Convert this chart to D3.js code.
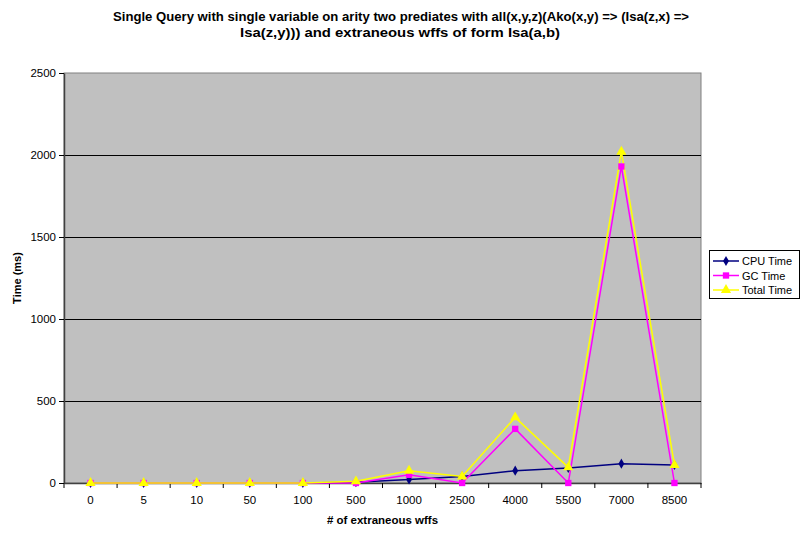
<!DOCTYPE html>
<html>
<head>
<meta charset="utf-8">
<script src="https://cdn.jsdelivr.net/npm/d3@7"></script>
<style>
  body { margin: 0; background: #fff; }
  svg { font-family: "Liberation Sans", Arial, sans-serif; }
</style>
</head>
<body>
<svg id="chart" width="801" height="533"></svg>
<script>
// categories on the x axis (# of extraneous wffs)
const categories = ["0", "5", "10", "50", "100", "500", "1000", "2500", "4000", "5500", "7000", "8500"];
const cpuTime   = [0, 0, 0, 0, 0, 5, 22, 40, 75, 92, 118, 110];
const gcTime    = [0, 0, 0, 0, 0, 0, 50, 0, 330, 0, 1930, 0];
const totalTime = [0, 0, 0, 0, 0, 10, 75, 40, 400, 95, 2020, 110];
const yTicks = [0, 500, 1000, 1500, 2000, 2500];

const seriesNames = ["CPU Time", "GC Time", "Total Time"];
const seriesColors = ["#000080", "#ff00ff", "#ffff00"];
const seriesShapes = [d3.symbolDiamond, d3.symbolSquare, d3.symbolTriangle];
const seriesSizes = [30, 40, 45];

const svg = d3.select('#chart');
const margin = {top: 73, left: 64, right: 100, bottom: 50};
const plotW = 701 - margin.left;
const plotH = 483 - margin.top;

// title (stretched to the width of the original)
const title = svg.append('g')
    .attr('font-weight', 'bold')
    .attr('font-size', 13)
    .attr('text-anchor', 'middle');
title.append('text').attr('x', 401).attr('y', 21)
    .attr('textLength', 576).attr('lengthAdjust', 'spacingAndGlyphs')
    .text("Single Query with single variable on arity two prediates with all(x,y,z)(Ako(x,y) => (Isa(z,x) =>");
title.append('text').attr('x', 400).attr('y', 37)
    .attr('textLength', 320).attr('lengthAdjust', 'spacingAndGlyphs')
    .text("Isa(z,y))) and extraneous wffs of form Isa(a,b)");

const g = svg.append('g').attr('transform', 'translate(' + margin.left + ',' + margin.top + ')');

const x = d3.scaleBand().domain(categories).range([0, plotW]);
const y = d3.scaleLinear().domain([0, 2500]).range([plotH, 0]);

// plot area
g.append('rect')
    .attr('width', plotW).attr('height', plotH)
    .attr('fill', '#c0c0c0')
    .attr('stroke', '#808080').attr('stroke-width', 1);

// gridlines
g.selectAll('.grid')
    .data(yTicks.filter(d => d > 0 && d < 2500))
    .enter().append('line')
    .attr('x1', 0).attr('x2', plotW)
    .attr('y1', d => Math.round(y(d)) + 0.5).attr('y2', d => Math.round(y(d)) + 0.5)
    .attr('stroke', '#000').attr('stroke-width', 1);

// y axis
const yAxis = g.append('g')
    .call(d3.axisLeft(y).tickValues(yTicks).tickFormat(d3.format('d')).tickSize(5).tickSizeOuter(0));
yAxis.select('.domain').attr('stroke', '#404040').attr('stroke-width', 1.5);
yAxis.selectAll('.tick line').attr('stroke', '#000');
yAxis.selectAll('text').attr('font-size', 11.5).attr('font-family', '"Liberation Sans", Arial, sans-serif').attr('x', -8);

// x axis, ticks between categories
const xAxis = g.append('g').attr('transform', 'translate(0,' + plotH + ')')
    .call(d3.axisBottom(x).tickSize(0).tickPadding(13));
xAxis.select('.domain').attr('stroke', '#404040').attr('stroke-width', 1.5);
xAxis.selectAll('text').attr('font-size', 11.5).attr('font-family', '"Liberation Sans", Arial, sans-serif');
xAxis.selectAll('.sep')
    .data(d3.range(categories.length + 1))
    .enter().append('line')
    .attr('x1', i => i * x.step()).attr('x2', i => i * x.step())
    .attr('y1', 0).attr('y2', 5)
    .attr('stroke', '#000');

// axis titles
svg.append('text')
    .attr('x', margin.left + plotW / 2).attr('y', 524)
    .attr('text-anchor', 'middle').attr('font-weight', 'bold').attr('font-size', 11.5)
    .text('# of extraneous wffs');
svg.append('text')
    .attr('transform', 'translate(21,' + (margin.top + plotH / 2) + ') rotate(-90)')
    .attr('text-anchor', 'middle').attr('font-weight', 'bold').attr('font-size', 11)
    .text('Time (ms)');

// series
const allSeries = [cpuTime, gcTime, totalTime];
const line = d3.line()
    .x((d, i) => x(categories[i]) + x.bandwidth() / 2)
    .y(d => y(d));

allSeries.forEach((vals, s) => {
    g.append('path')
        .datum(vals)
        .attr('d', line)
        .attr('fill', 'none')
        .attr('stroke', seriesColors[s])
        .attr('stroke-width', 1.5);
});
allSeries.forEach((vals, s) => {
    g.selectAll('.m' + s)
        .data(vals)
        .enter().append('path')
        .attr('transform', (d, i) => 'translate(' + (x(categories[i]) + x.bandwidth() / 2) + ',' + y(d) + ')')
        .attr('d', d3.symbol().type(seriesShapes[s]).size(seriesSizes[s]))
        .attr('fill', seriesColors[s]);
});

// legend
const legend = svg.append('g').attr('transform', 'translate(709,250)');
legend.append('rect')
    .attr('x', 0.5).attr('y', 0.5).attr('width', 90).attr('height', 48)
    .attr('fill', '#fff').attr('stroke', '#000');
seriesNames.forEach((name, s) => {
    const ly = 11 + s * 14.5;
    legend.append('line')
        .attr('x1', 4).attr('x2', 30).attr('y1', ly).attr('y2', ly)
        .attr('stroke', seriesColors[s]).attr('stroke-width', 1.5);
    legend.append('path')
        .attr('transform', 'translate(17,' + ly + ')')
        .attr('d', d3.symbol().type(seriesShapes[s]).size(seriesSizes[s]))
        .attr('fill', seriesColors[s]);
    legend.append('text')
        .attr('x', 33).attr('y', ly + 4)
        .attr('font-size', 11)
        .text(name);
});
</script>
</body>
</html>
